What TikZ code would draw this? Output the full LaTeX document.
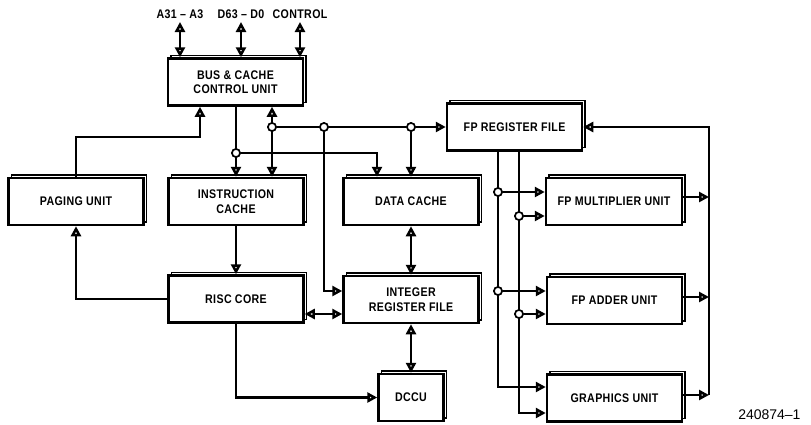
\documentclass[tikz,border=0pt]{standalone}
\usepackage{fontspec}
\setmainfont{Liberation Sans}
\newfontfamily\lblfont[LetterSpace=3,FakeStretch=0.85,Ligatures=TeX]{Liberation Sans}
\newcommand\lbl{\lblfont\bfseries\fontsize{12.5}{14.5}\selectfont}
\usetikzlibrary{arrows.meta,shadows}
\begin{document}
\begin{tikzpicture}[x=1pt,y=-1pt,line width=2.5pt,
  >={Triangle[open,length=10pt,width=10pt]},
  blk/.style={draw,line width=2.5pt,fill=white,minimum width=135pt,minimum height=47pt,
    align=center,font=\lbl,inner sep=0pt,
    copy shadow={shadow xshift=3pt,shadow yshift=3pt,draw=black,fill=white,line width=1.2pt}},
  dot/.style={circle,draw,fill=white,line width=1.6pt,minimum size=8pt,inner sep=0pt},
  toplbl/.style={font=\lbl,anchor=south,inner sep=1pt}]
\fill[white] (0,0) rectangle (811,424);
\useasboundingbox (0,0) rectangle (811,424);
% coordinates for columns / rows
\coordinate (X200) at (200,0);
\coordinate (X272) at (272,0);
\coordinate (X377) at (377,0);
\coordinate (X498) at (498,0);
\coordinate (X519) at (519,0);
\coordinate (X709) at (709,0);
\coordinate (Y137) at (0,137);
\coordinate (Y291) at (0,291);
\coordinate (Y314) at (0,314);
\coordinate (Y387) at (0,387);
\coordinate (Y413) at (0,413);
\coordinate (Y197) at (0,197);
\coordinate (Y297) at (0,297);
\coordinate (Y395) at (0,395);
% blocks
\node[blk] (bccu) at (235.5,82) {BUS \& CACHE\\CONTROL UNIT};
\node[blk] (pag) at (76,201.5) {PAGING UNIT};
\node[blk] (ic) at (236,201.5) {INSTRUCTION\\CACHE};
\node[blk] (dc) at (411,201.5) {DATA CACHE};
\node[blk] (risc) at (236,299) {RISC CORE};
\node[blk] (ir) at (411,299.5) {INTEGER\\REGISTER FILE};
\node[blk,minimum width=65pt] (dccu) at (411,397.5) {DCCU};
\node[blk] (fpr) at (514.5,127) {FP REGISTER FILE};
\node[blk,minimum width=136pt] (fpm) at (614,201.5) {FP MULTIPLIER UNIT};
\node[blk] (fpa) at (614.5,300.5) {FP ADDER UNIT};
\node[blk] (gfx) at (614.5,398) {GRAPHICS UNIT};
% top labels
\node[toplbl] (la) at (180,21) {A31 -- A3};
\node[toplbl] (ld) at (241,21) {D63 -- D0};
\node[toplbl] (lc) at (300,21) {CONTROL};
\draw[<->,shorten <=1pt] (la.south) -- (la.south |- bccu.north);
\draw[<->,shorten <=1pt] (ld.south) -- (ld.south |- bccu.north);
\draw[<->,shorten <=1pt] (lc.south) -- (lc.south |- bccu.north);
% dots
\node[dot] (d1) at (236,153) {};
\node[dot] (d2) at (272,127) {};
\node[dot] (d3) at (324,127) {};
\node[dot] (d4) at (411,127) {};
\node[dot] (fa) at (498,192) {};
\node[dot] (fb) at (519,216) {};
\node[dot] (fc) at (498,291) {};
\node[dot] (fd) at (519,314) {};
% connectors
\draw[->] (pag.north) |- (X200 |- Y137) -- (X200 |- bccu.south);
\draw[->] (bccu.south -| ic.north) -- (ic.north);
\draw[->] (d1) -| (X377 |- dc.north);
\draw[<->] (X272 |- bccu.south) -- (X272 |- ic.north);
\draw (d2) -- (d3) -- (d4);
\draw[->] (d4) -- (fpr.west);
\draw[->] (d3) |- (ir.west |- Y291);
\draw[->] (d4) -- (dc.north);
\draw[->] (ic.south) -- (risc.north);
\draw[->] (risc.west) -| (pag.south);
\draw[<->] (risc.east |- Y314) -- (ir.west |- Y314);
\draw[<->] (dc.south) -- (ir.north);
\draw[<->] (ir.south) -- (dccu.north);
\draw[->] (risc.south) |- (dccu.west);
% FP buses
\draw[->] (X498 |- fpr.south) |- (gfx.west |- Y387);
\draw[->] (X519 |- fpr.south) |- (gfx.west |- Y413);
\draw[->] (fa) -- (fpm.west |- fa);
\draw[->] (fb) -- (fpm.west |- fb);
\draw[->] (fc) -- (fpa.west |- fc);
\draw[->] (fd) -- (fpa.west |- fd);
\draw[->] (fpm.east |- Y197) -- (X709 |- Y197);
\draw[->] (fpa.east |- Y297) -- (X709 |- Y297);
\draw[->] (gfx.east |- Y395) -- (X709 |- Y395);
\draw[->] (X709 |- Y395) |- (fpr.east);
% redraw dots on top
\foreach \d in {d1,d2,d3,d4,fa,fb,fc,fd}
  \draw[line width=1.6pt,fill=white] (\d) circle (4pt);
\node[anchor=north west,font=\fontsize{14}{14}\selectfont,inner sep=0pt] (fig) at (737,408) {240874--1};
\end{tikzpicture}
\end{document}
